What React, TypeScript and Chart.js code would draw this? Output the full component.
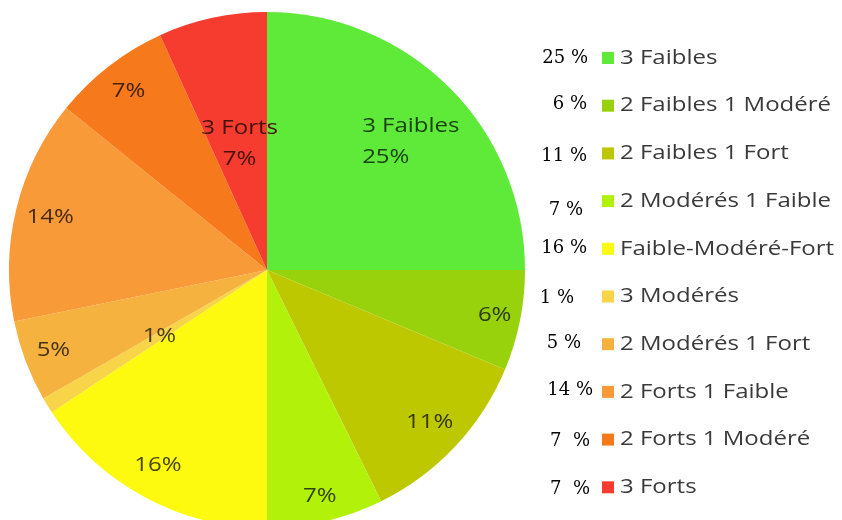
import React, { useEffect, useRef } from "react";
import { Chart, registerables } from "chart.js";

Chart.register(...registerables);

const categories = [
  "3 Faibles",
  "2 Faibles 1 Modéré",
  "2 Faibles 1 Fort",
  "2 Modérés 1 Faible",
  "Faible-Modéré-Fort",
  "3 Modérés",
  "2 Modérés 1 Fort",
  "2 Forts 1 Faible",
  "2 Forts 1 Modéré",
  "3 Forts",
];
// shares (%); labels show them rounded
const values = [25, 6.3, 11.4, 7.3, 15.7, 1.0, 5.1, 14.0, 7.4, 6.8];
const legendPctText = ["25 %", "6 %", "11 %", "7 %", "16 %", "1 %", "5 %", "14 %", "7  %", "7  %"];
const sliceShowsName = [true, false, false, false, false, false, false, false, false, true];

// styles
const colors = [
  "#5fea3a",
  "#98d20c",
  "#bec800",
  "#b2f20a",
  "#fdfa10",
  "#f7d448",
  "#f5b23e",
  "#f99a38",
  "#f67a1c",
  "#f63c2e",
];
const labelRadiusFrac = [0.75, 0.9, 0.865, 0.9, 0.86, 0.49, 0.885, 0.865, 0.875, 0.5];
const labelNudge = [[7, 9], [0, 0], [0, 0], [0, 0], [-4, 0], [0, 0], [0, 0], [0, 0], [0, 0], [0, 0]];
const labelAlign = ["left", "center", "center", "center", "center", "center", "center", "center", "center", "center"];
const pctRightX = [588, 587, 587, 583, 587, 574, 581, 593, 590, 590];
const pctDy = [0, -1, 3, 9, 0, 2, -1, -2, 2, 2];

const SANS = '"Open Sans", "Liberation Sans", sans-serif';
const SERIF = '"DejaVu Serif", "Liberation Serif", serif';
const SX = 1.2;

function darken(hex: string, f: number) {
  const n = parseInt(hex.slice(1), 16);
  const r = Math.round(((n >> 16) & 255) * f);
  const g = Math.round(((n >> 8) & 255) * f);
  const b = Math.round((n & 255) * f);
  return `rgb(${r},${g},${b})`;
}

function scaledText(ctx: CanvasRenderingContext2D, text: string, x: number, y: number, align: CanvasTextAlign, sx: number) {
  ctx.save();
  ctx.translate(x, y);
  ctx.scale(sx, 1);
  ctx.textAlign = align;
  ctx.fillText(text, 0, 0);
  ctx.restore();
}

const sliceLabels = {
  id: "sliceLabels",
  afterDatasetsDraw(chart: any) {
    const ctx: CanvasRenderingContext2D = chart.ctx;
    const meta = chart.getDatasetMeta(0);
    const ds = chart.data.datasets[0];
    ctx.save();
    ctx.font = `500 20px ${SANS}`;
    ctx.textBaseline = "middle";
    meta.data.forEach((arc: any, i: number) => {
      const { x, y, startAngle, endAngle, outerRadius } = arc.getProps(
        ["x", "y", "startAngle", "endAngle", "outerRadius"],
        true
      );
      const mid = (startAngle + endAngle) / 2;
      const r = outerRadius * labelRadiusFrac[i];
      const cx = x + Math.cos(mid) * r + labelNudge[i][0];
      const cy = y + Math.sin(mid) * r + labelNudge[i][1];
      const pct = `${Math.round(ds.data[i])}%`;
      const lines = sliceShowsName[i] ? [chart.data.labels[i], pct] : [pct];
      ctx.fillStyle = darken(colors[i], 0.28);
      const lh = 31;
      const widths = lines.map((l: string) => ctx.measureText(l).width * SX);
      const maxW = Math.max(...widths);
      lines.forEach((l: string, k: number) => {
        const ly = cy + (k - (lines.length - 1) / 2) * lh;
        if (labelAlign[i] === "left") {
          scaledText(ctx, l, cx - maxW / 2, ly, "left", SX);
        } else {
          scaledText(ctx, l, cx, ly, "center", SX);
        }
      });
    });
    ctx.restore();
  },
};

const sideLegend = {
  id: "sideLegend",
  afterDraw(chart: any) {
    const ctx: CanvasRenderingContext2D = chart.ctx;
    const labels: string[] = chart.data.labels;
    const bg: string[] = chart.data.datasets[0].backgroundColor;
    ctx.save();
    ctx.textBaseline = "middle";
    labels.forEach((lab, i) => {
      const rowY = 58 + i * 47.7;
      // percentage annotation
      ctx.font = `18px ${SERIF}`;
      ctx.fillStyle = "#000000";
      ctx.textAlign = "right";
      ctx.fillText(legendPctText[i], pctRightX[i], rowY + pctDy[i]);
      // box
      ctx.fillStyle = bg[i];
      ctx.fillRect(602, rowY - 6, 12, 12);
      // label
      ctx.font = `500 20px ${SANS}`;
      ctx.fillStyle = "#3a3a3a";
      scaledText(ctx, lab, 620, rowY, "left", SX);
    });
    ctx.restore();
  },
};

export default function App() {
  const ref = useRef<HTMLCanvasElement>(null);
  useEffect(() => {
    if (!ref.current) return;
    const chart = new Chart(ref.current, {
      type: "pie",
      data: {
        labels: categories,
        datasets: [
          {
            data: values,
            backgroundColor: colors,
            borderWidth: 0,
          },
        ],
      },
      options: {
        responsive: false,
        maintainAspectRatio: false,
        animation: false,
        devicePixelRatio: 1,
        layout: { padding: { left: 9, right: 317, top: 12, bottom: 12 } },
        plugins: {
          legend: { display: false },
          tooltip: { enabled: false },
        },
      },
      plugins: [sliceLabels, sideLegend],
    });
    return () => chart.destroy();
  }, []);
  return (
    <div
      style={{
        position: "fixed",
        left: 0,
        top: 0,
        width: 842,
        height: 520,
        overflow: "hidden",
        background: "#ffffff",
      }}
    >
      <canvas
        ref={ref}
        width={842}
        height={540}
        style={{ position: "absolute", left: 0, top: 0, width: 842, height: 540 }}
      />
    </div>
  );
}
